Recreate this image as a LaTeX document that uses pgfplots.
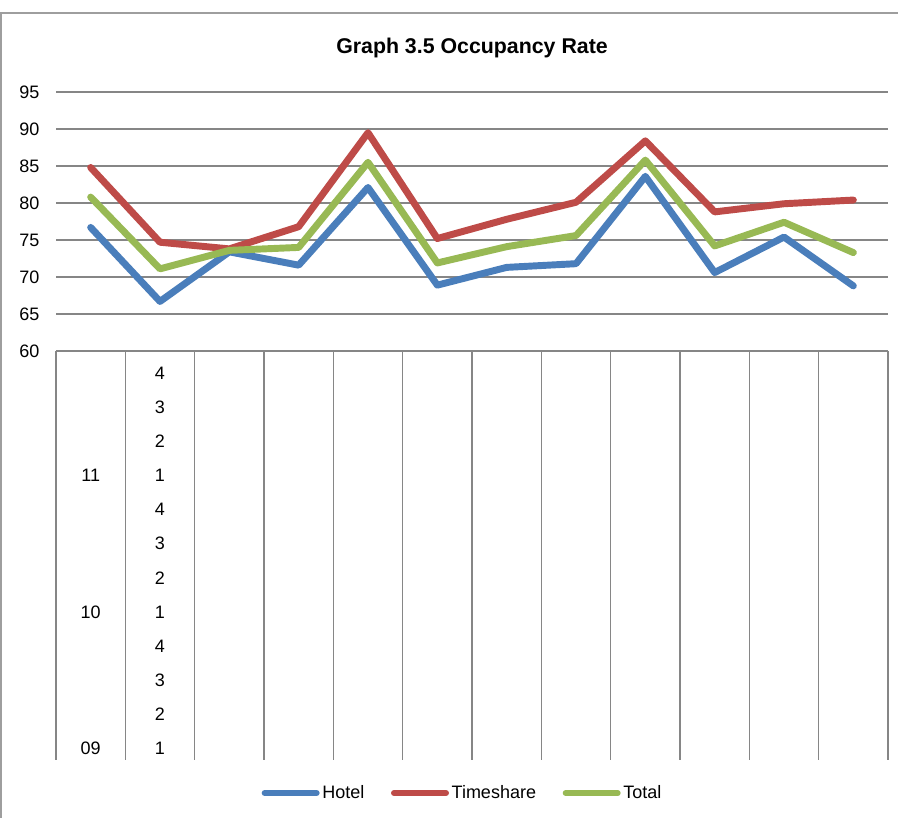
\documentclass[border=0pt]{standalone}
\usepackage{pgfplots}
\pgfplotsset{compat=1.18}
\usepackage{fontspec}
\setmainfont{Liberation Sans}
\definecolor{hotel}{RGB}{74,126,187}
\definecolor{timeshare}{RGB}{190,75,72}
\definecolor{total}{RGB}{152,185,84}
\definecolor{gridgray}{RGB}{134,134,134}

\begin{document}
\begin{tikzpicture}[x=0.75pt,y=0.75pt]
% picture frame: 898 x 818 px, plot area origin at px (56,351)
\useasboundingbox (-56,-467) rectangle (842,351);
\draw[gridgray!80, line width=1.2pt] (-56,338) -- (842,338);
\draw[gridgray!80, line width=1pt] (-55,338) -- (-55,-467);
\begin{axis}[
    at={(0,0)}, anchor=origin,
    scale only axis,
    width=624pt, height=194.25pt,
    xmin=0.5, xmax=12.5,
    ymin=60, ymax=95,
    ytick={60,65,...,95},
    xtick=\empty,
    ymajorgrids,
    grid style={gridgray, line width=0.9pt},
    major tick length=0pt,
    axis line style={draw=none},
    clip=false,
    /pgf/number format/assume math mode=true,
    yticklabel style={font=\fontsize{13.5}{15}\selectfont, xshift=-9pt},
    title={\bfseries Graph 3.5 Occupancy Rate},
    title style={font=\fontsize{16}{18}\selectfont, at={(0.5,1)}, anchor=center, yshift=27pt},
    every axis plot/.append style={line width=5.2pt, line join=round, line cap=round, mark=none},
    legend style={at={(0.489,-1.7066)}, anchor=center, draw=none, fill=none,
        legend columns=3, font=\fontsize{13.5}{15}\selectfont,
        /tikz/every even column/.append style={column sep=18pt}},
    legend image code/.code={\draw[line width=4.5pt, line cap=round] (0pt,0pt) -- (39pt,0pt);},
    legend cell align=left,
]
\addplot[hotel] coordinates {
    (1,76.7) (2,66.7) (3,73.4) (4,71.6) (5,82.1) (6,68.9)
    (7,71.3) (8,71.8) (9,83.6) (10,70.6) (11,75.4) (12,68.8)
};
\addlegendentry{Hotel}
\addplot[timeshare] coordinates {
    (1,84.8) (2,74.7) (3,73.8) (4,76.8) (5,89.5) (6,75.2)
    (7,77.8) (8,80.1) (9,88.4) (10,78.8) (11,79.9) (12,80.4)
};
\addlegendentry{Timeshare}
\addplot[total] coordinates {
    (1,80.8) (2,71.1) (3,73.6) (4,74.0) (5,85.5) (6,71.9)
    (7,74.1) (8,75.6) (9,85.8) (10,74.2) (11,77.4) (12,73.3)
};
\addlegendentry{Total}

% category axis line and separators (broken multi-level labels)
\draw[gridgray, line width=0.9pt] (axis cs:0.5,60) -- (axis cs:12.5,60);
\pgfplotsinvokeforeach{0.5,1.5,...,12.5}{
    \draw[gridgray, line width=0.9pt] (axis cs:#1,60) -- (axis cs:#1,4.7);
}
\tikzset{cat/.style={font=\fontsize{13.5}{15}\selectfont}}
\node[cat] at (axis cs:2,57.03) {4};
\node[cat] at (axis cs:2,52.43) {3};
\node[cat] at (axis cs:2,47.84) {2};
\node[cat] at (axis cs:2,43.24) {1};
\node[cat] at (axis cs:2,38.65) {4};
\node[cat] at (axis cs:2,34.05) {3};
\node[cat] at (axis cs:2,29.32) {2};
\node[cat] at (axis cs:2,24.73) {1};
\node[cat] at (axis cs:2,20.14) {4};
\node[cat] at (axis cs:2,15.54) {3};
\node[cat] at (axis cs:2,10.95) {2};
\node[cat] at (axis cs:2,6.35) {1};
\node[cat] at (axis cs:1,43.24) {11};
\node[cat] at (axis cs:1,24.73) {10};
\node[cat] at (axis cs:1,6.35) {09};
\end{axis}
\end{tikzpicture}
\end{document}
